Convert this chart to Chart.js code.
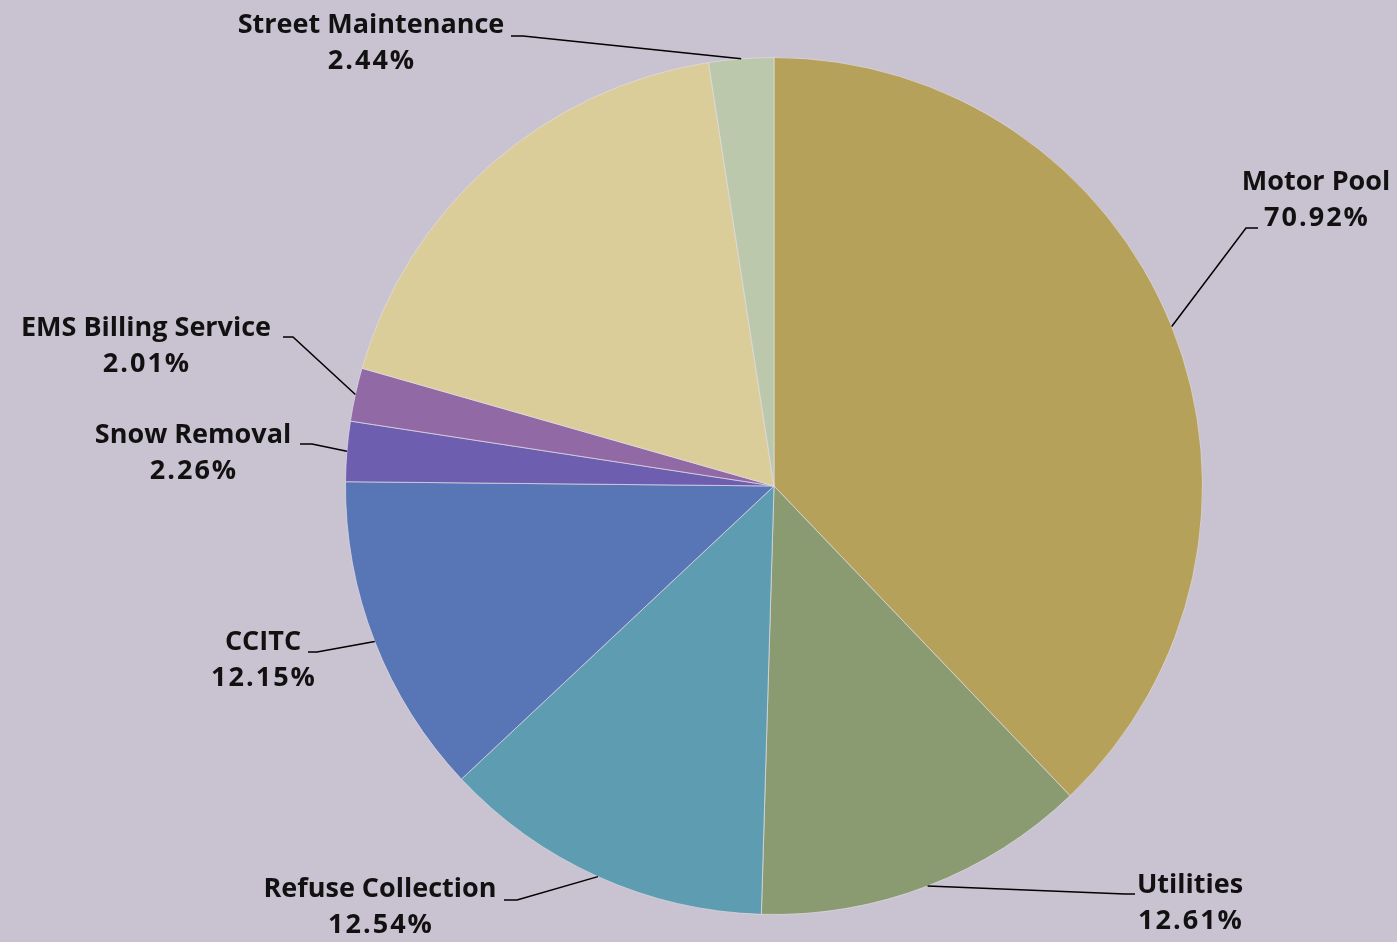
<!DOCTYPE html>
<html lang="en">
<head>
    <meta charset="UTF-8" />
    <title>Internal Service Funds</title>
    <script src="https://cdn.jsdelivr.net/npm/chart.js"></script>
    <style>
        html, body { margin: 0; padding: 0; background: #C9C2D0; }
        #wrap { width: 1397px; height: 942px; position: relative; }
    </style>
</head>
<body>
    <div id="wrap"><canvas id="fundChart"></canvas></div>

    <script>
        // slices, clockwise from 12 o'clock
        const categories = ['Motor Pool', 'Utilities', 'Refuse Collection', 'CCITC', 'Snow Removal', 'EMS Billing Service', '', 'Street Maintenance'];
        const shares = [37.86, 12.61, 12.54, 12.15, 2.26, 2.01, 18.13, 2.44];
        // percentages printed next to each slice (the unlabeled slice has none)
        const shownPct = [70.92, 12.61, 12.54, 12.15, 2.26, 2.01, null, 2.44];
        const colors = ['#B5A15A', '#8A9A71', '#5E9DB1', '#5875B6', '#6E5EAF', '#9169A5', '#DBCD9A', '#BBC8AC'];

        // where each label sits: text centre (cx, cy), leader end (lx, ly), elbow x (ex)
        const labelLayout = [
            { cx: 1316, cy: 182, lx: 1258, ly: 228, ex: 1246 },
            { cx: 1190, cy: 885, lx: 1135, ly: 894, ex: 1125 },
            { cx: 380, cy: 889, lx: 504, ly: 900, ex: 517 },
            { cx: 263, cy: 642, lx: 308, ly: 652, ex: 317 },
            { cx: 193, cy: 435, lx: 300, ly: 444, ex: 312 },
            { cx: 146, cy: 328, lx: 283, ly: 337, ex: 293 },
            null,
            { cx: 371, cy: 25, lx: 511, ly: 36, ex: 523 }
        ];

        const leaderLabels = {
            id: 'leaderLabels',
            afterDatasetsDraw(chart) {
                const ctx = chart.ctx;
                const arcs = chart.getDatasetMeta(0).data;
                ctx.save();
                ctx.strokeStyle = '#000';
                ctx.lineWidth = 1.5;
                ctx.fillStyle = '#111';
                ctx.font = 'bold 27px "Open Sans"';
                ctx.textAlign = 'center';
                ctx.textBaseline = 'middle';
                arcs.forEach((arc, i) => {
                    const pos = labelLayout[i];
                    if (!pos || shownPct[i] === null) return;
                    const p = arc.getProps(['x', 'y', 'startAngle', 'endAngle', 'outerRadius'], true);
                    const mid = (p.startAngle + p.endAngle) / 2;
                    const sx = p.x + p.outerRadius * Math.cos(mid);
                    const sy = p.y + p.outerRadius * Math.sin(mid);
                    ctx.beginPath();
                    ctx.moveTo(sx, sy);
                    ctx.lineTo(pos.ex, pos.ly);
                    ctx.lineTo(pos.lx, pos.ly);
                    ctx.stroke();
                    ctx.letterSpacing = '0px';
                    ctx.fillText(categories[i], pos.cx, pos.cy);
                    // digits run a little wider than the names
                    ctx.letterSpacing = '2px';
                    ctx.fillText(shownPct[i].toFixed(2) + '%', pos.cx + 1, pos.cy + 36.5);
                });
                ctx.restore();
            }
        };

        new Chart(document.getElementById('fundChart'), {
            type: 'pie',
            data: {
                labels: categories,
                datasets: [{
                    data: shares,
                    backgroundColor: colors,
                    borderColor: 'rgba(225, 220, 230, 0.7)',
                    borderWidth: 1
                }]
            },
            options: {
                responsive: true,
                maintainAspectRatio: false,
                animation: false,
                layout: { padding: { top: 57, bottom: 27, left: 345, right: 194 } },
                plugins: {
                    legend: { display: false },
                    tooltip: { enabled: false }
                }
            },
            plugins: [leaderLabels]
        });
    </script>
</body>
</html>
